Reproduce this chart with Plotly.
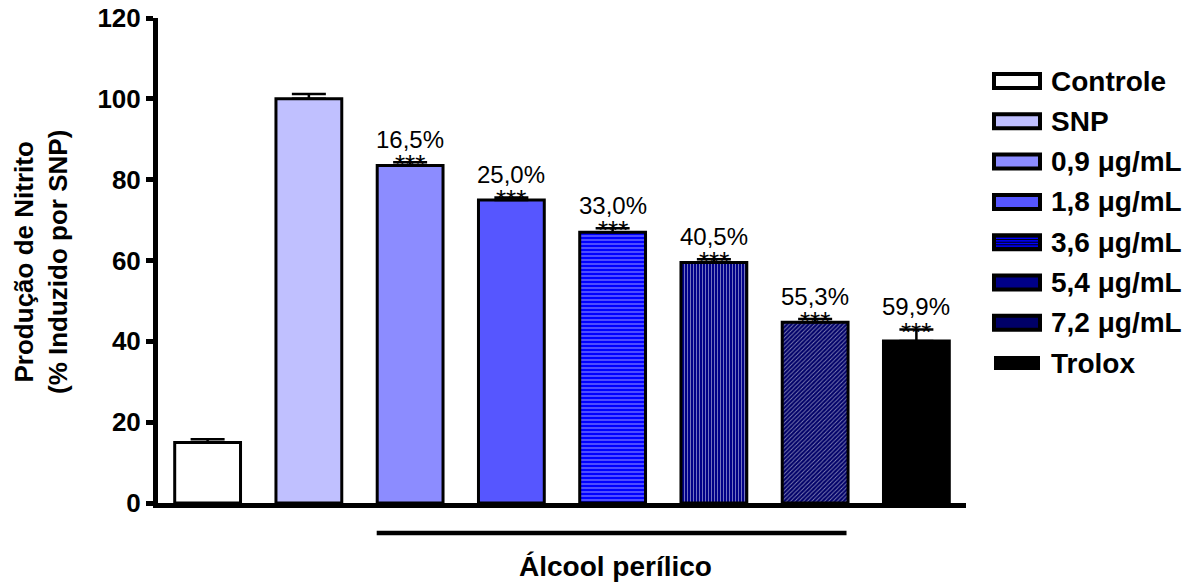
import plotly.graph_objects as go

# Groups, in plotting order
groups = ["Controle", "SNP", "0,9 μg/mL", "1,8 μg/mL", "3,6 μg/mL",
          "5,4 μg/mL", "7,2 μg/mL", "Trolox"]

# Inhibition relative to SNP (%) for the treated groups
inhibition = [None, None, 16.5, 25.0, 33.0, 40.5, 55.3, 59.9]

# Nitrite production (% of SNP-induced); treated groups = 100 - inhibition
nitrite = [15.0, 100.0] + [round(100 - v, 1) for v in inhibition[2:]]
sem = [0.8, 1.2, 0.8, 0.6, 1.0, 0.8, 0.8, 2.8]

# Fills
fill = ["#ffffff", "#c0c0ff", "#8c8cff", "#5656ff", "#0000ff",
        "#000088", "#000068", "#000000"]
pat_shape = ["", "", "", "", "-", "|", "/", ""]
pat_fg = ["#000000", "#000000", "#000000", "#000000", "#000000",
          "#0000b0", "#0a0a8e", "#000000"]
pat_size = [6, 6, 6, 6, 4, 3, 3, 6]
pat_solid = [0.3, 0.3, 0.3, 0.3, 0.3, 0.3, 0.3, 0.3]

yticks = [0, 20, 40, 60, 80, 100, 120]

FONT = "Arial, 'Liberation Sans', sans-serif"
W, H = 1195, 583
ML, MR, MT, MB = 158, 229, 18, 80
PW, PH = W - ML - MR, H - MT - MB

x = list(range(len(groups)))

fig = go.Figure()
fig.add_trace(go.Bar(
    x=x, y=nitrite, width=0.65,
    marker=dict(
        color=fill,
        line=dict(color="#000000", width=3),
        pattern=dict(shape=pat_shape, fgcolor=pat_fg, bgcolor=fill,
                     size=pat_size, solidity=pat_solid, fillmode="overlay"),
    ),
    error_y=dict(type="data", symmetric=False, array=sem,
                 arrayminus=[0] * len(sem), color="#000000",
                 thickness=2.5, width=17),
    showlegend=False, hoverinfo="skip",
))

annotations = []
for i, inh in enumerate(inhibition):
    if inh is None:
        continue
    top = nitrite[i] + sem[i]
    annotations.append(dict(x=i, y=top, xref="x", yref="y", text="***",
                            showarrow=False, yanchor="middle", yshift=-2,
                            font=dict(family=FONT, size=26, color="#000000")))
    annotations.append(dict(x=i, y=top, xref="x", yref="y",
                            text=f"{inh:.1f}%".replace(".", ","),
                            showarrow=False, yanchor="middle", yshift=23,
                            font=dict(family=FONT, size=24, color="#000000")))


def px_x(p):
    return (p - ML) / PW


def px_y(p):
    return (MT + PH - p) / PH


# Y axis title
annotations.append(dict(
    x=px_x(41), y=px_y(262), xref="paper", yref="paper",
    text="<b>Produção de Nitrito<br>(% Induzido por SNP)</b>",
    textangle=-90, showarrow=False, xanchor="center", yanchor="middle",
    font=dict(family=FONT, size=26, color="#000000")))

# Bracket label under the perillyl alcohol doses
annotations.append(dict(
    x=4.03, y=px_y(566), xref="x", yref="paper", text="<b>Álcool perílico</b>",
    showarrow=False, xanchor="center", yanchor="middle",
    font=dict(family=FONT, size=28, color="#000000")))

shapes = [dict(type="line", xref="x", yref="paper", x0=1.67, x1=6.31,
               y0=px_y(533), y1=px_y(533),
               line=dict(color="#000000", width=4.5))]

# Legend drawn as boxes + labels
leg_y0, leg_dy = 81, 40.3
for i, name in enumerate(groups):
    cy = leg_y0 + i * leg_dy
    bordered = i < 7
    shapes.append(dict(type="rect", xref="paper", yref="paper",
                       x0=px_x(994), x1=px_x(1040),
                       y0=px_y(cy - 7), y1=px_y(cy + 7),
                       fillcolor=fill[i],
                       line=dict(color="#000000", width=4 if bordered else 0)))
    if pat_shape[i] == "-":
        for k in range(-2, 3):
            shapes.append(dict(type="line", xref="paper", yref="paper",
                               x0=px_x(994), x1=px_x(1040),
                               y0=px_y(cy + 2.6 * k), y1=px_y(cy + 2.6 * k),
                               line=dict(color="#000000", width=1)))
    annotations.append(dict(x=px_x(1049), y=px_y(cy), xref="paper", yref="paper",
                            text=f"<b>{name}</b>", showarrow=False,
                            xanchor="left", yanchor="middle",
                            font=dict(family=FONT, size=28, color="#000000")))

fig.update_layout(
    width=W, height=H,
    margin=dict(l=ML, r=MR, t=MT, b=MB, pad=0),
    paper_bgcolor="#ffffff", plot_bgcolor="#ffffff",
    xaxis=dict(range=[-0.49, 7.49], showgrid=False, zeroline=False,
               showticklabels=False, ticks="", showline=True,
               linecolor="#000000", linewidth=5, fixedrange=True,
               automargin=False),
    yaxis=dict(range=[0, 120], tickvals=yticks, showgrid=False, zeroline=False,
               ticks="outside", ticklen=7, tickwidth=5, tickcolor="#000000",
               showline=True, linecolor="#000000", linewidth=5,
               tickfont=dict(family=FONT, size=26, color="#000000", weight="bold"),
               fixedrange=True, automargin=False),
    annotations=annotations,
    shapes=shapes,
    bargap=0.35,
)

fig.write_html("out.html")
